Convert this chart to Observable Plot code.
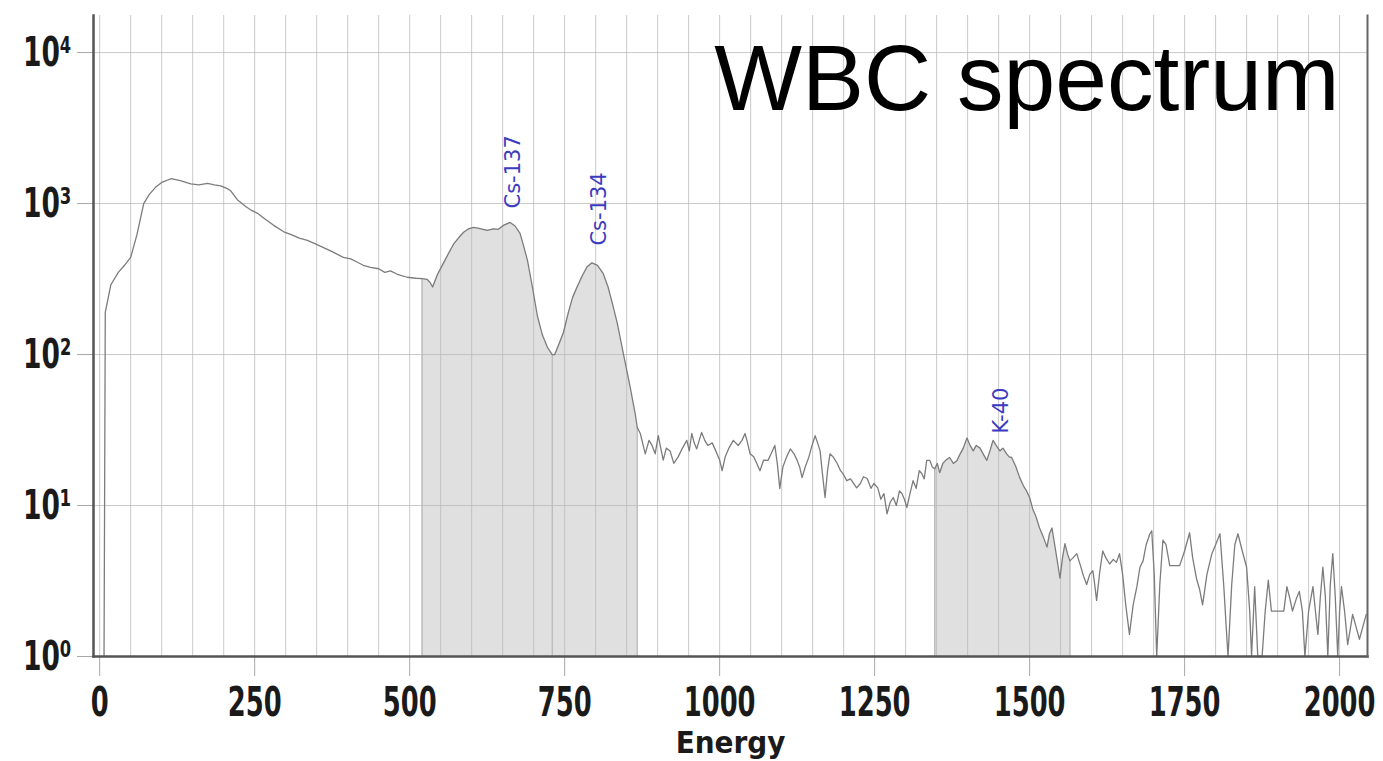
<!DOCTYPE html>
<html>
<head>
<meta charset="utf-8">
<script src="https://cdn.jsdelivr.net/npm/d3@7"></script>
<script src="https://cdn.jsdelivr.net/npm/@observablehq/plot@0.6"></script>
<style>
  html, body { margin: 0; padding: 0; background: #ffffff; }
  #chart svg { display: block; background: #ffffff; }
</style>
</head>
<body>
<div id="chart"></div>
<script>
// ---- Data ----
const title = "WBC spectrum";
const xLabel = "Energy";
const xTicks = [0, 250, 500, 750, 1000, 1250, 1500, 1750, 2000];
const yTicks = [1, 10, 100, 1000, 10000];
const xGrid = [0,50,100,150,200,250,300,350,400,450,500,550,600,650,700,750,800,850,900,950,1000,1050,1100,1150,1200,1250,1300,1350,1400,1450,1500,1550,1600,1650,1700,1750,1800,1850,1900,1950,2000];

const energy = [
  7, 9, 18, 30, 40, 50, 60, 71, 80, 90, 100, 115, 130, 147, 160, 174, 185, 195, 205, 211,
  222, 235, 245, 255, 265, 280, 297, 310, 322, 335, 348, 361, 375, 393, 405, 415, 425, 437, 450, 460,
  469, 480, 496, 510, 520, 528, 533, 537, 545, 554, 563, 571, 580, 587, 595, 603, 612, 625, 635, 643,
  652, 662, 670, 678, 684, 690, 698, 706, 714, 722, 730, 734, 741, 748, 756, 763, 770, 778, 786, 794,
  803, 812, 820, 828, 835, 845, 856, 864, 867, 872, 880, 886, 891, 896, 901, 905, 909, 914, 920, 926,
  933, 940, 947, 951, 955, 959, 963, 967, 971, 976, 981, 988, 995, 1000, 1004, 1009, 1015, 1022, 1030, 1036,
  1041, 1045, 1049, 1055, 1060, 1065, 1071, 1078, 1083, 1089, 1093, 1097, 1102, 1108, 1114, 1120, 1125, 1129, 1133, 1138,
  1144, 1149, 1154, 1158, 1162, 1166, 1170, 1174, 1178, 1183, 1189, 1195, 1200, 1205, 1211, 1216, 1221, 1227, 1232, 1238,
  1244, 1249, 1255, 1260, 1265, 1270, 1275, 1280, 1285, 1290, 1294, 1298, 1302, 1307, 1312, 1317, 1322, 1326, 1330, 1334,
  1339, 1343, 1347, 1351, 1355, 1360, 1365, 1371, 1377, 1383, 1388, 1393, 1399, 1404, 1409, 1414, 1420, 1425, 1431, 1436,
  1441, 1446, 1452, 1457, 1463, 1467, 1471, 1478, 1484, 1490, 1495, 1500, 1505, 1510, 1516, 1522, 1528, 1532, 1536, 1542,
  1549, 1553, 1557, 1561, 1565, 1570, 1576, 1582, 1587, 1592, 1597, 1602, 1605, 1608, 1613, 1618, 1623, 1629, 1635, 1640,
  1645, 1650, 1655, 1661, 1667, 1673, 1678, 1683, 1688, 1694, 1697, 1701, 1705, 1710, 1715, 1720, 1726, 1734, 1742, 1750,
  1758, 1763, 1769, 1774, 1779, 1786, 1794, 1800, 1807, 1813, 1820, 1826, 1831, 1836, 1843, 1850, 1855, 1858, 1863, 1868,
  1875, 1880, 1885, 1890, 1900, 1910, 1915, 1920, 1924, 1930, 1935, 1940, 1944, 1950, 1957, 1961, 1965, 1969, 1973, 1977,
  1981, 1985, 1989, 1993, 1997, 2000, 2003, 2008, 2013, 2017, 2021, 2026, 2032, 2038, 2043
];
const counts = [
  1, 190, 290, 350, 390, 440, 620, 1000, 1150, 1280, 1380, 1460, 1420, 1350, 1330, 1360, 1330, 1310, 1260, 1220,
  1060, 960, 900, 860, 800, 720, 650, 620, 590, 570, 540, 510, 480, 440, 430, 410, 390, 378, 370, 350,
  358, 340, 325, 320, 318, 315, 300, 280, 340, 400, 470, 540, 600, 645, 680, 695, 685, 665, 680, 675,
  720, 750, 710, 635, 520, 420, 280, 180, 135, 112, 100, 100, 118, 140, 190, 240, 280, 330, 380, 405,
  390, 345, 280, 210, 160, 100, 60, 40, 33, 30, 22, 27, 25, 22, 29, 24, 20, 24, 23, 19,
  21, 24, 27, 23, 30, 26, 23.7, 27, 30.5, 27, 25, 26, 22.4, 20, 17, 21, 24, 27, 25, 27,
  30, 26, 22, 21, 19, 17, 20, 19.9, 22, 25, 19, 13, 18, 21, 23.7, 22, 19.9, 18, 15.3, 18,
  21, 25, 29, 26, 23, 16, 11.3, 17, 22, 21, 19.2, 17, 16, 14.6, 15, 14, 13.1, 14, 15.5, 15.1,
  13, 14, 13.1, 11, 12, 8.8, 10.5, 11.3, 10, 12.5, 12, 11, 9.7, 12, 14.6, 13, 17, 16.3, 15, 19.9,
  19.9, 18, 17.5, 19, 16.5, 19, 20, 20.8, 19, 19.9, 22, 24, 28, 25, 23, 25, 24, 22, 19.9, 23,
  27, 25, 23, 24, 22, 21, 20.8, 18, 15.3, 13.5, 12.5, 11.3, 9.5, 8.5, 7.1, 6.2, 5.3, 6.5, 7.1, 5,
  3.3, 4.5, 5.6, 4.8, 4.3, 4.5, 4.8, 4, 3.4, 3, 3.5, 3.7, 3, 2.35, 3.6, 5, 4.5, 4.1, 4.4, 4.2,
  4.8, 3.5, 2.2, 1.4, 2.2, 2.9, 3.9, 4.3, 5.5, 6.5, 6.8, 3.5, 1, 3, 5.9, 5.5, 4, 4, 4, 5,
  6.6, 4.5, 3.3, 2.8, 2.2, 3.5, 4.8, 5.5, 6.5, 3, 1, 3, 5.5, 6.5, 5, 3.9, 2, 1, 2.9, 1,
  1, 2, 3.2, 2, 2, 2, 2.9, 2.4, 2, 2.4, 2.7, 2, 1, 2, 2.9, 2, 1.4, 2.5, 3.9, 2.5,
  1, 3, 4.8, 2.5, 1, 2, 2.9, 2, 1.2, 1.5, 1.9, 1.6, 1.3, 1.6, 1.9
];

// Regions of interest (shaded peaks)
const roiStart = [520, 730, 1347];
const roiEnd = [730, 867, 1565];

// Peak labels
const peakNames = ["Cs-137", "Cs-134", "K-40"];
const peakEnergy = [667, 806, 1454];
const peakCounts = [927, 527, 30];

const sup = {0: "\u2070", 1: "\u00b9", 2: "\u00b2", 3: "\u00b3", 4: "\u2074"};

const data = energy.map((e, i) => ({energy: e, counts: counts[i]}));
const peaks = peakNames.map((n, i) => ({name: n, energy: peakEnergy[i], counts: peakCounts[i]}));
const roiEdges = roiStart.concat(roiEnd);

const labelFont = "'DejaVu Sans Condensed', 'DejaVu Sans', sans-serif";

const roiMarks = roiStart.map((s, i) =>
  Plot.areaY(data.filter(d => d.energy >= s && d.energy <= roiEnd[i]), {
    x: "energy", y1: 1, y2: "counts", fill: "#e0e0e0", curve: "linear"
  })
);

const chart = Plot.plot({
  width: 1383,
  height: 761,
  marginLeft: 93,
  marginRight: 16,
  marginTop: 15,
  marginBottom: 105,
  style: {background: "#ffffff", fontFamily: labelFont},
  x: {domain: [-10, 2045]},
  y: {type: "log", domain: [1, 17600]},
  marks: [
    ...roiMarks,
    Plot.gridX({ticks: xGrid, stroke: "#b8b8b8", strokeOpacity: 0.75, strokeWidth: 1}),
    Plot.gridY({ticks: yTicks, stroke: "#b8b8b8", strokeOpacity: 0.75, strokeWidth: 1}),
    Plot.ruleX(data.filter(d => roiEdges.includes(d.energy)), {
      x: "energy", y1: 1, y2: "counts", stroke: "#bdbdbd", strokeWidth: 1.5
    }),
    Plot.line(data, {x: "energy", y: "counts", stroke: "#7c7c7c", strokeWidth: 1.3}),
    Plot.text(peaks, {
      x: "energy", y: "counts", text: "name", rotate: -90,
      textAnchor: "start", lineAnchor: "middle",
      fill: "#3b3bbf", fontSize: 21, fontFamily: "'DejaVu Sans', sans-serif"
    }),
    Plot.axisX({
      ticks: xTicks, tickSize: 20, tickPadding: 10, stroke: "#a8a8a8", fill: "#1a1a1a",
      fontSize: 41, fontWeight: "bold", fontFamily: labelFont, label: null,
      tickFormat: d => String(d)
    }),
    Plot.axisY({
      ticks: yTicks, tickSize: 16, tickPadding: 6, stroke: "#a8a8a8", fill: "#1a1a1a",
      fontSize: 41, fontWeight: "bold", fontFamily: labelFont, label: null,
      tickFormat: d => "10" + sup[Math.round(Math.log10(d))]
    }),
    Plot.frame({anchor: "left", stroke: "#555", strokeWidth: 2.5}),
    Plot.frame({anchor: "bottom", stroke: "#555", strokeWidth: 2.5}),
    Plot.frame({anchor: "right", stroke: "#666", strokeWidth: 2}),
    Plot.text([xLabel], {
      text: d => d, frameAnchor: "bottom", lineAnchor: "top", dy: 74,
      fontSize: 31, fontWeight: "bold", fontFamily: labelFont, fill: "#1a1a1a",
      ariaLabel: "x-label"
    }),
    Plot.text([title], {
      text: d => d, frameAnchor: "top-right", textAnchor: "end", lineAnchor: "top",
      dx: -28, dy: 28, fontSize: 93, fontFamily: "'Liberation Sans', Arial, sans-serif", fill: "#000"
    })
  ]
});

// Condense the labels horizontally like the reference's narrow font
function squeeze(selector, sx) {
  d3.select(chart).selectAll(selector).each(function () {
    const t = this.getAttribute("transform") || "";
    this.setAttribute("transform", t + ` scale(${sx},1)`);
  });
}
squeeze("g[aria-label='x-axis tick label'] text", 0.7);
squeeze("g[aria-label='y-axis tick label'] text", 0.72);
squeeze("g[aria-label='x-label'] text", 0.8);

document.getElementById("chart").appendChild(chart);
</script>
</body>
</html>
